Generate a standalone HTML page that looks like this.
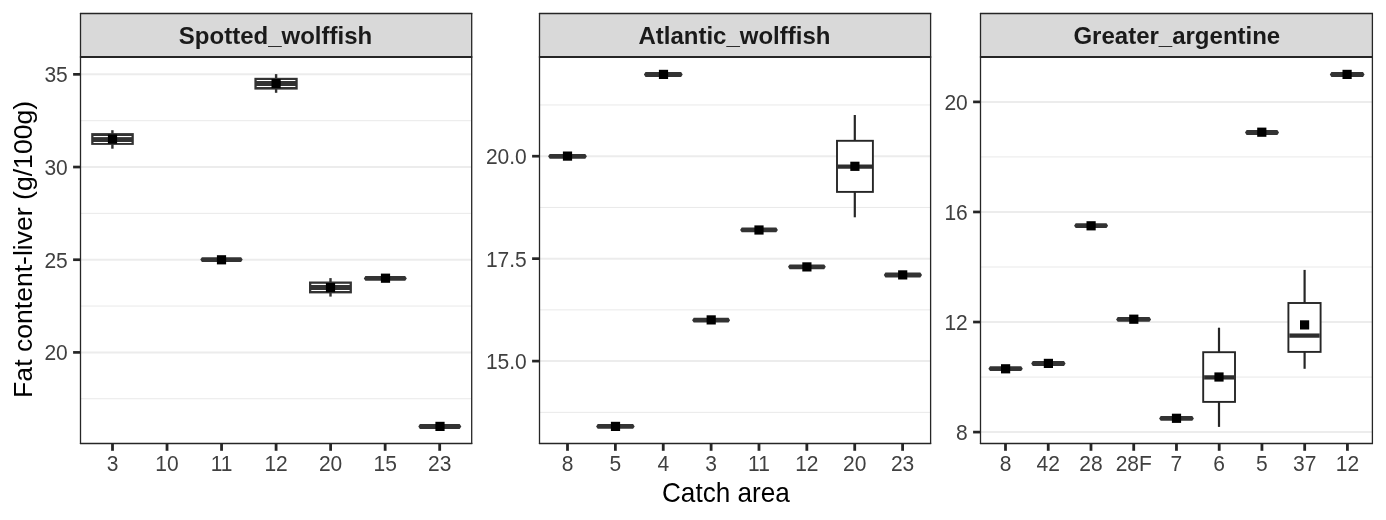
<!DOCTYPE html><html><head><meta charset="utf-8"><title>Fat content-liver by catch area</title><style>
html,body{margin:0;padding:0;background:#fff;}body{width:1386px;height:520px;overflow:hidden;}
svg{display:block;will-change:transform;}text{font-family:"Liberation Sans",Arial,sans-serif;}
.ax{font-size:21px;fill:#404040;}
.st{font-size:24px;font-weight:bold;fill:#1a1a1a;}
.tt{font-size:26.4px;fill:#000;}
</style></head><body>
<svg width="1386" height="520" viewBox="0 0 1386 520">
<rect width="1386" height="520" fill="#fff"/>
<line x1="80.5" x2="471.7" y1="120.69" y2="120.69" stroke="#e9e9e9" stroke-width="1"/>
<line x1="80.5" x2="471.7" y1="213.37" y2="213.37" stroke="#e9e9e9" stroke-width="1"/>
<line x1="80.5" x2="471.7" y1="306.06" y2="306.06" stroke="#e9e9e9" stroke-width="1"/>
<line x1="80.5" x2="471.7" y1="398.74" y2="398.74" stroke="#e9e9e9" stroke-width="1"/>
<line x1="80.5" x2="471.7" y1="74.35" y2="74.35" stroke="#ececec" stroke-width="2"/>
<line x1="80.5" x2="471.7" y1="167.03" y2="167.03" stroke="#ececec" stroke-width="2"/>
<line x1="80.5" x2="471.7" y1="259.72" y2="259.72" stroke="#ececec" stroke-width="2"/>
<line x1="80.5" x2="471.7" y1="352.4" y2="352.4" stroke="#ececec" stroke-width="2"/>
<line x1="539.5" x2="930.6" y1="104.97" y2="104.97" stroke="#e9e9e9" stroke-width="1"/>
<line x1="539.5" x2="930.6" y1="207.43" y2="207.43" stroke="#e9e9e9" stroke-width="1"/>
<line x1="539.5" x2="930.6" y1="309.88" y2="309.88" stroke="#e9e9e9" stroke-width="1"/>
<line x1="539.5" x2="930.6" y1="412.33" y2="412.33" stroke="#e9e9e9" stroke-width="1"/>
<line x1="539.5" x2="930.6" y1="156.2" y2="156.2" stroke="#ececec" stroke-width="2"/>
<line x1="539.5" x2="930.6" y1="258.65" y2="258.65" stroke="#ececec" stroke-width="2"/>
<line x1="539.5" x2="930.6" y1="361.1" y2="361.1" stroke="#ececec" stroke-width="2"/>
<line x1="980.5" x2="1372.4" y1="156.93" y2="156.93" stroke="#e9e9e9" stroke-width="1"/>
<line x1="980.5" x2="1372.4" y1="267" y2="267" stroke="#e9e9e9" stroke-width="1"/>
<line x1="980.5" x2="1372.4" y1="377.07" y2="377.07" stroke="#e9e9e9" stroke-width="1"/>
<line x1="980.5" x2="1372.4" y1="101.9" y2="101.9" stroke="#ececec" stroke-width="2"/>
<line x1="980.5" x2="1372.4" y1="211.97" y2="211.97" stroke="#ececec" stroke-width="2"/>
<line x1="980.5" x2="1372.4" y1="322.03" y2="322.03" stroke="#ececec" stroke-width="2"/>
<line x1="980.5" x2="1372.4" y1="432.1" y2="432.1" stroke="#ececec" stroke-width="2"/>
<polygon points="200.3,259.6 201.9,257.2 241.1,257.2 242.7,259.6 241.1,262 201.9,262" fill="#333333"/>
<polygon points="363.8,278.4 365.4,276 405.2,276 406.8,278.4 405.2,280.8 365.4,280.8" fill="#333333"/>
<polygon points="418.3,426.5 419.9,424.1 459.7,424.1 461.3,426.5 459.7,428.9 419.9,428.9" fill="#333333"/>
<polygon points="548.1,156.3 549.7,153.9 585.3,153.9 586.9,156.3 585.3,158.7 549.7,158.7" fill="#333333"/>
<polygon points="596.1,426.4 597.7,424 633.1,424 634.7,426.4 633.1,428.8 597.7,428.8" fill="#333333"/>
<polygon points="643.9,74.5 645.5,72.1 681.1,72.1 682.7,74.5 681.1,76.9 645.5,76.9" fill="#333333"/>
<polygon points="692.1,320.2 693.7,317.8 728.5,317.8 730.1,320.2 728.5,322.6 693.7,322.6" fill="#333333"/>
<polygon points="740.1,229.9 741.7,227.5 776.3,227.5 777.9,229.9 776.3,232.3 741.7,232.3" fill="#333333"/>
<polygon points="788,266.8 789.6,264.4 824.2,264.4 825.8,266.8 824.2,269.2 789.6,269.2" fill="#333333"/>
<polygon points="883.8,275 885.4,272.6 920.4,272.6 922,275 920.4,277.4 885.4,277.4" fill="#333333"/>
<polygon points="988.4,368.7 990,366.3 1021.2,366.3 1022.8,368.7 1021.2,371.1 990,371.1" fill="#333333"/>
<polygon points="1031.2,363.5 1032.8,361.1 1064,361.1 1065.6,363.5 1064,365.9 1032.8,365.9" fill="#333333"/>
<polygon points="1074.1,225.7 1075.7,223.3 1106.5,223.3 1108.1,225.7 1106.5,228.1 1075.7,228.1" fill="#333333"/>
<polygon points="1116.1,319.4 1117.7,317 1149.5,317 1151.1,319.4 1149.5,321.8 1117.7,321.8" fill="#333333"/>
<polygon points="1159.1,418.4 1160.7,416 1192.3,416 1193.9,418.4 1192.3,420.8 1160.7,420.8" fill="#333333"/>
<polygon points="1245,132.5 1246.6,130.1 1277.4,130.1 1279,132.5 1277.4,134.9 1246.6,134.9" fill="#333333"/>
<polygon points="1329.8,74.5 1331.4,72.1 1363,72.1 1364.6,74.5 1363,76.9 1331.4,76.9" fill="#333333"/>
<rect x="111.2" y="130.2" width="2.4" height="18.5" fill="#333333"/>
<rect x="91.2" y="133.1" width="42.6" height="11.8" fill="#333333"/>
<rect x="93.5" y="136" width="38" height="1.1" fill="#fff"/>
<rect x="93.5" y="142" width="38" height="1" fill="#fff"/>
<rect x="274.9" y="74.1" width="2.4" height="18.7" fill="#333333"/>
<rect x="254.4" y="77.8" width="43.3" height="11.8" fill="#333333"/>
<rect x="256.7" y="80" width="38.7" height="1" fill="#fff"/>
<rect x="256.7" y="86" width="38.7" height="1" fill="#fff"/>
<rect x="329.3" y="278.1" width="2.4" height="18.5" fill="#333333"/>
<rect x="309" y="281.5" width="42.9" height="11.9" fill="#333333"/>
<rect x="311.3" y="283.8" width="38.3" height="1.2" fill="#fff"/>
<rect x="311.3" y="290" width="38.3" height="1" fill="#fff"/>
<line x1="854.8" x2="854.8" y1="115" y2="140.8" stroke="#262626" stroke-width="2.2"/>
<line x1="854.8" x2="854.8" y1="191.9" y2="217.3" stroke="#262626" stroke-width="2.2"/>
<rect x="837" y="140.8" width="35.9" height="51.1" fill="#fff" stroke="#262626" stroke-width="1.9"/>
<line x1="837.9" x2="872" y1="166.7" y2="166.7" stroke="#2e2e2e" stroke-width="4.3"/>
<line x1="1219" x2="1219" y1="327.7" y2="352.2" stroke="#262626" stroke-width="2.2"/>
<line x1="1219" x2="1219" y1="401.9" y2="426.9" stroke="#262626" stroke-width="2.2"/>
<rect x="1203.2" y="352.2" width="31.8" height="49.7" fill="#fff" stroke="#262626" stroke-width="1.9"/>
<line x1="1204.1" x2="1234.1" y1="377.4" y2="377.4" stroke="#2e2e2e" stroke-width="4.3"/>
<line x1="1304.6" x2="1304.6" y1="269.9" y2="303" stroke="#262626" stroke-width="2.2"/>
<line x1="1304.6" x2="1304.6" y1="351.9" y2="368.8" stroke="#262626" stroke-width="2.2"/>
<rect x="1288.4" y="303" width="32.2" height="48.9" fill="#fff" stroke="#262626" stroke-width="1.9"/>
<line x1="1289.3" x2="1319.7" y1="335.6" y2="335.6" stroke="#2e2e2e" stroke-width="4.3"/>
<rect x="107.9" y="134.5" width="9.2" height="9.2" fill="#000"/>
<rect x="271.5" y="79" width="9.2" height="9.2" fill="#000"/>
<rect x="325.9" y="283" width="9.2" height="9.2" fill="#000"/>
<rect x="216.9" y="255.2" width="9.2" height="9.2" fill="#000"/>
<rect x="380.9" y="273.6" width="9.2" height="9.2" fill="#000"/>
<rect x="435.4" y="421.8" width="9.2" height="9.2" fill="#000"/>
<rect x="562.9" y="151.5" width="9.2" height="9.2" fill="#000"/>
<rect x="610.9" y="421.8" width="9.2" height="9.2" fill="#000"/>
<rect x="658.9" y="69.8" width="9.2" height="9.2" fill="#000"/>
<rect x="706.6" y="315.3" width="9.2" height="9.2" fill="#000"/>
<rect x="754.4" y="225.4" width="9.2" height="9.2" fill="#000"/>
<rect x="802.3" y="262.3" width="9.2" height="9.2" fill="#000"/>
<rect x="850.3" y="161.7" width="9.2" height="9.2" fill="#000"/>
<rect x="898.1" y="270.3" width="9.2" height="9.2" fill="#000"/>
<rect x="1001" y="364.2" width="9.2" height="9.2" fill="#000"/>
<rect x="1043.8" y="358.8" width="9.2" height="9.2" fill="#000"/>
<rect x="1086.5" y="221.2" width="9.2" height="9.2" fill="#000"/>
<rect x="1129.2" y="314.6" width="9.2" height="9.2" fill="#000"/>
<rect x="1171.9" y="413.7" width="9.2" height="9.2" fill="#000"/>
<rect x="1214.4" y="372.4" width="9.2" height="9.2" fill="#000"/>
<rect x="1257.2" y="127.6" width="9.2" height="9.2" fill="#000"/>
<rect x="1300" y="320.3" width="9.2" height="9.2" fill="#000"/>
<rect x="1342.5" y="69.8" width="9.2" height="9.2" fill="#000"/>
<rect x="80.5" y="13.5" width="391.2" height="43.5" fill="#d9d9d9"/>
<text class="st" x="275.5" y="43.8" text-anchor="middle">Spotted_wolffish</text>
<line x1="79.9" x2="472.3" y1="13.5" y2="13.5" stroke="#262626" stroke-width="1.3"/>
<line x1="79.9" x2="472.3" y1="57" y2="57" stroke="#262626" stroke-width="2"/>
<line x1="79.9" x2="472.3" y1="443.5" y2="443.5" stroke="#262626" stroke-width="1.3"/>
<line x1="80.5" x2="80.5" y1="12.9" y2="444.1" stroke="#262626" stroke-width="1.3"/>
<line x1="471.7" x2="471.7" y1="12.9" y2="444.1" stroke="#262626" stroke-width="1.3"/>
<line x1="73.1" x2="80.5" y1="74.35" y2="74.35" stroke="#262626" stroke-width="2.7"/>
<text class="ax" transform="translate(67.8,82.35) scale(1,1.07)" text-anchor="end">35</text>
<line x1="73.1" x2="80.5" y1="167.03" y2="167.03" stroke="#262626" stroke-width="2.7"/>
<text class="ax" transform="translate(67.8,175.03) scale(1,1.07)" text-anchor="end">30</text>
<line x1="73.1" x2="80.5" y1="259.72" y2="259.72" stroke="#262626" stroke-width="2.7"/>
<text class="ax" transform="translate(67.8,267.72) scale(1,1.07)" text-anchor="end">25</text>
<line x1="73.1" x2="80.5" y1="352.4" y2="352.4" stroke="#262626" stroke-width="2.7"/>
<text class="ax" transform="translate(67.8,360.4) scale(1,1.07)" text-anchor="end">20</text>
<line x1="112.5" x2="112.5" y1="443.5" y2="450.8" stroke="#262626" stroke-width="2.8"/>
<text class="ax" transform="translate(112.5,471.4) scale(1,1.07)" text-anchor="middle">3</text>
<line x1="167.03" x2="167.03" y1="443.5" y2="450.8" stroke="#262626" stroke-width="2.8"/>
<text class="ax" transform="translate(167.03,471.4) scale(1,1.07)" text-anchor="middle">10</text>
<line x1="221.56" x2="221.56" y1="443.5" y2="450.8" stroke="#262626" stroke-width="2.8"/>
<text class="ax" transform="translate(221.56,471.4) scale(1,1.07)" text-anchor="middle">11</text>
<line x1="276.09" x2="276.09" y1="443.5" y2="450.8" stroke="#262626" stroke-width="2.8"/>
<text class="ax" transform="translate(276.09,471.4) scale(1,1.07)" text-anchor="middle">12</text>
<line x1="330.62" x2="330.62" y1="443.5" y2="450.8" stroke="#262626" stroke-width="2.8"/>
<text class="ax" transform="translate(330.62,471.4) scale(1,1.07)" text-anchor="middle">20</text>
<line x1="385.15" x2="385.15" y1="443.5" y2="450.8" stroke="#262626" stroke-width="2.8"/>
<text class="ax" transform="translate(385.15,471.4) scale(1,1.07)" text-anchor="middle">15</text>
<line x1="439.68" x2="439.68" y1="443.5" y2="450.8" stroke="#262626" stroke-width="2.8"/>
<text class="ax" transform="translate(439.68,471.4) scale(1,1.07)" text-anchor="middle">23</text>
<rect x="539.5" y="13.5" width="391.1" height="43.5" fill="#d9d9d9"/>
<text class="st" x="734.45" y="43.8" text-anchor="middle">Atlantic_wolffish</text>
<line x1="538.9" x2="931.2" y1="13.5" y2="13.5" stroke="#262626" stroke-width="1.3"/>
<line x1="538.9" x2="931.2" y1="57" y2="57" stroke="#262626" stroke-width="2"/>
<line x1="538.9" x2="931.2" y1="443.5" y2="443.5" stroke="#262626" stroke-width="1.3"/>
<line x1="539.5" x2="539.5" y1="12.9" y2="444.1" stroke="#262626" stroke-width="1.3"/>
<line x1="930.6" x2="930.6" y1="12.9" y2="444.1" stroke="#262626" stroke-width="1.3"/>
<line x1="532.1" x2="539.5" y1="156.2" y2="156.2" stroke="#262626" stroke-width="2.7"/>
<text class="ax" transform="translate(526.8,164.2) scale(1,1.07)" text-anchor="end">20.0</text>
<line x1="532.1" x2="539.5" y1="258.65" y2="258.65" stroke="#262626" stroke-width="2.7"/>
<text class="ax" transform="translate(526.8,266.65) scale(1,1.07)" text-anchor="end">17.5</text>
<line x1="532.1" x2="539.5" y1="361.1" y2="361.1" stroke="#262626" stroke-width="2.7"/>
<text class="ax" transform="translate(526.8,369.1) scale(1,1.07)" text-anchor="end">15.0</text>
<line x1="567.5" x2="567.5" y1="443.5" y2="450.8" stroke="#262626" stroke-width="2.8"/>
<text class="ax" transform="translate(567.5,471.4) scale(1,1.07)" text-anchor="middle">8</text>
<line x1="615.37" x2="615.37" y1="443.5" y2="450.8" stroke="#262626" stroke-width="2.8"/>
<text class="ax" transform="translate(615.37,471.4) scale(1,1.07)" text-anchor="middle">5</text>
<line x1="663.24" x2="663.24" y1="443.5" y2="450.8" stroke="#262626" stroke-width="2.8"/>
<text class="ax" transform="translate(663.24,471.4) scale(1,1.07)" text-anchor="middle">4</text>
<line x1="711.11" x2="711.11" y1="443.5" y2="450.8" stroke="#262626" stroke-width="2.8"/>
<text class="ax" transform="translate(711.11,471.4) scale(1,1.07)" text-anchor="middle">3</text>
<line x1="758.98" x2="758.98" y1="443.5" y2="450.8" stroke="#262626" stroke-width="2.8"/>
<text class="ax" transform="translate(758.98,471.4) scale(1,1.07)" text-anchor="middle">11</text>
<line x1="806.85" x2="806.85" y1="443.5" y2="450.8" stroke="#262626" stroke-width="2.8"/>
<text class="ax" transform="translate(806.85,471.4) scale(1,1.07)" text-anchor="middle">12</text>
<line x1="854.72" x2="854.72" y1="443.5" y2="450.8" stroke="#262626" stroke-width="2.8"/>
<text class="ax" transform="translate(854.72,471.4) scale(1,1.07)" text-anchor="middle">20</text>
<line x1="902.59" x2="902.59" y1="443.5" y2="450.8" stroke="#262626" stroke-width="2.8"/>
<text class="ax" transform="translate(902.59,471.4) scale(1,1.07)" text-anchor="middle">23</text>
<rect x="980.5" y="13.5" width="391.9" height="43.5" fill="#d9d9d9"/>
<text class="st" x="1176.85" y="43.8" text-anchor="middle">Greater_argentine</text>
<line x1="979.9" x2="1373" y1="13.5" y2="13.5" stroke="#262626" stroke-width="1.3"/>
<line x1="979.9" x2="1373" y1="57" y2="57" stroke="#262626" stroke-width="2"/>
<line x1="979.9" x2="1373" y1="443.5" y2="443.5" stroke="#262626" stroke-width="1.3"/>
<line x1="980.5" x2="980.5" y1="12.9" y2="444.1" stroke="#262626" stroke-width="1.3"/>
<line x1="1372.4" x2="1372.4" y1="12.9" y2="444.1" stroke="#262626" stroke-width="1.3"/>
<line x1="973.1" x2="980.5" y1="101.9" y2="101.9" stroke="#262626" stroke-width="2.7"/>
<text class="ax" transform="translate(967.8,109.9) scale(1,1.07)" text-anchor="end">20</text>
<line x1="973.1" x2="980.5" y1="211.97" y2="211.97" stroke="#262626" stroke-width="2.7"/>
<text class="ax" transform="translate(967.8,219.97) scale(1,1.07)" text-anchor="end">16</text>
<line x1="973.1" x2="980.5" y1="322.03" y2="322.03" stroke="#262626" stroke-width="2.7"/>
<text class="ax" transform="translate(967.8,330.03) scale(1,1.07)" text-anchor="end">12</text>
<line x1="973.1" x2="980.5" y1="432.1" y2="432.1" stroke="#262626" stroke-width="2.7"/>
<text class="ax" transform="translate(967.8,440.1) scale(1,1.07)" text-anchor="end">8</text>
<line x1="1005.5" x2="1005.5" y1="443.5" y2="450.8" stroke="#262626" stroke-width="2.8"/>
<text class="ax" transform="translate(1005.5,471.4) scale(1,1.07)" text-anchor="middle">8</text>
<line x1="1048.24" x2="1048.24" y1="443.5" y2="450.8" stroke="#262626" stroke-width="2.8"/>
<text class="ax" transform="translate(1048.24,471.4) scale(1,1.07)" text-anchor="middle">42</text>
<line x1="1090.98" x2="1090.98" y1="443.5" y2="450.8" stroke="#262626" stroke-width="2.8"/>
<text class="ax" transform="translate(1090.98,471.4) scale(1,1.07)" text-anchor="middle">28</text>
<line x1="1133.72" x2="1133.72" y1="443.5" y2="450.8" stroke="#262626" stroke-width="2.8"/>
<text class="ax" transform="translate(1133.72,471.4) scale(1,1.07)" text-anchor="middle">28F</text>
<line x1="1176.46" x2="1176.46" y1="443.5" y2="450.8" stroke="#262626" stroke-width="2.8"/>
<text class="ax" transform="translate(1176.46,471.4) scale(1,1.07)" text-anchor="middle">7</text>
<line x1="1219.2" x2="1219.2" y1="443.5" y2="450.8" stroke="#262626" stroke-width="2.8"/>
<text class="ax" transform="translate(1219.2,471.4) scale(1,1.07)" text-anchor="middle">6</text>
<line x1="1261.94" x2="1261.94" y1="443.5" y2="450.8" stroke="#262626" stroke-width="2.8"/>
<text class="ax" transform="translate(1261.94,471.4) scale(1,1.07)" text-anchor="middle">5</text>
<line x1="1304.68" x2="1304.68" y1="443.5" y2="450.8" stroke="#262626" stroke-width="2.8"/>
<text class="ax" transform="translate(1304.68,471.4) scale(1,1.07)" text-anchor="middle">37</text>
<line x1="1347.42" x2="1347.42" y1="443.5" y2="450.8" stroke="#262626" stroke-width="2.8"/>
<text class="ax" transform="translate(1347.42,471.4) scale(1,1.07)" text-anchor="middle">12</text>
<text class="tt" transform="translate(725.9,501.5) scale(0.99,1.055)" text-anchor="middle">Catch area</text>
<text class="tt" transform="translate(32.4,249.4) rotate(-90) scale(1.0075,1)" text-anchor="middle">Fat content-liver (g/100g)</text>
</svg></body></html>
